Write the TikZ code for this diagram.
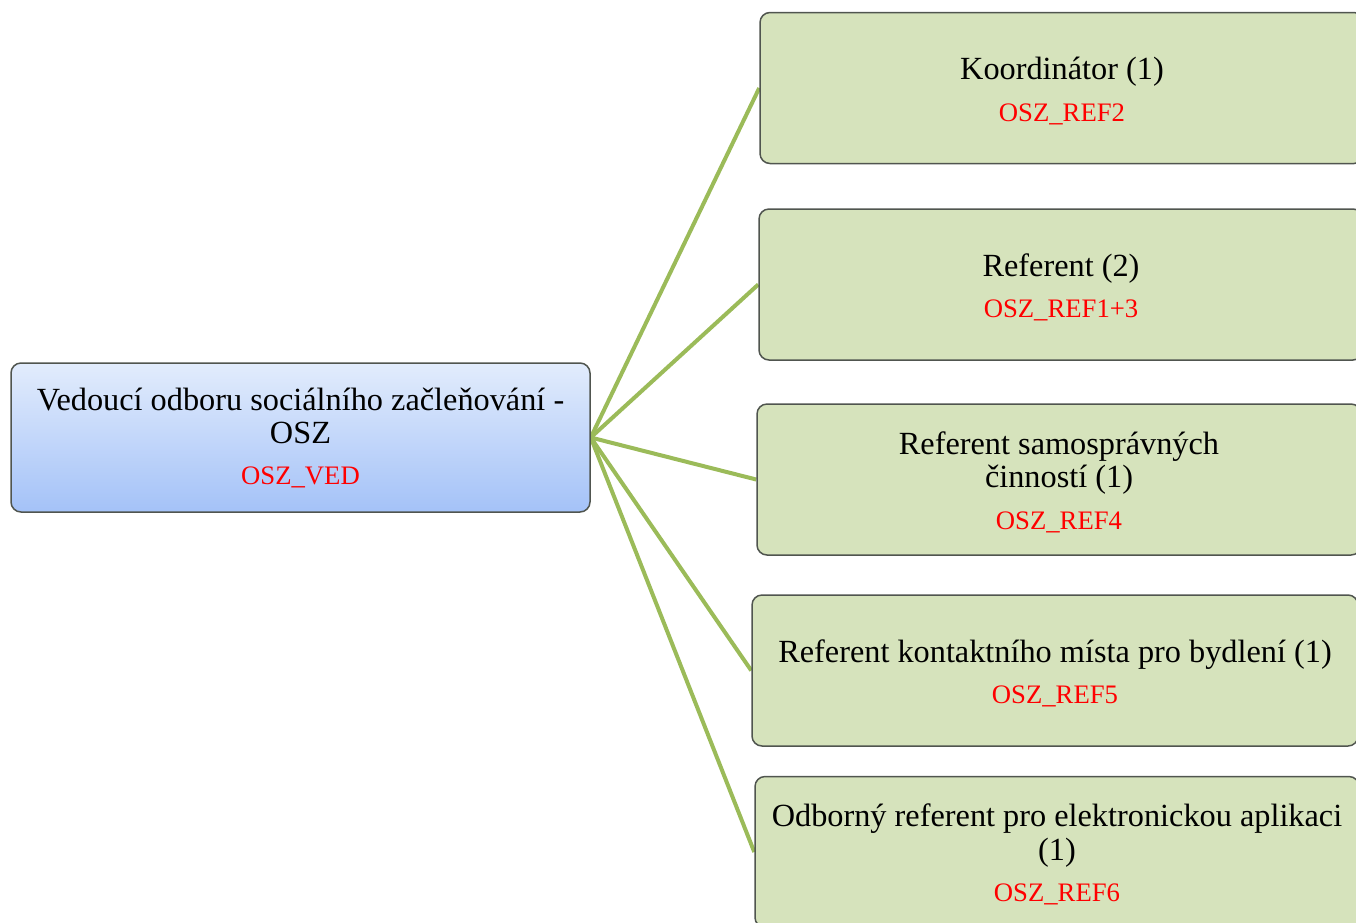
\documentclass[tikz,border=0pt]{standalone}
\usepackage{fontspec}
\setmainfont{Liberation Serif}
\usetikzlibrary{backgrounds}
\definecolor{boxgreen}{HTML}{D6E3BC}
\definecolor{linegreen}{HTML}{9BBB59}
\definecolor{boxborder}{HTML}{50554F}
\definecolor{bluetop}{HTML}{E2ECFC}
\definecolor{bluebot}{HTML}{A4C2F8}
\definecolor{codered}{HTML}{FF0000}
\newcommand{\codetxt}[1]{{\fontsize{26.7}{30}\selectfont\color{codered}#1}}
\newcommand{\topgap}{\rule{0pt}{28pt}}
\tikzset{
  orgbox/.style={draw=boxborder, line width=1.5pt, rounded corners=10pt,
    align=center, inner sep=0pt,
    font=\fontsize{32.3}{33.5}\selectfont},
  headbox/.style={orgbox, top color=bluetop, bottom color=bluebot,
    minimum width=579pt, minimum height=149pt},
  staffbox/.style={orgbox, fill=boxgreen, minimum height=151pt},
  link/.style={draw=linegreen, line width=4pt}
}
\begin{document}
\begin{tikzpicture}[x=1pt,y=-1pt]
\useasboundingbox (0,0) rectangle (1356,922);
\clip (0,0) rectangle (1356,922);
\node[headbox] (head) at (300.5,437.5)
  {Vedoucí odboru sociálního začleňování -\\OSZ\\[7pt]\codetxt{OSZ\_VED}};
\node[staffbox, minimum width=604pt] (b1) at (1062,88)
  {\topgap Koordinátor (1)\\[8pt]\codetxt{OSZ\_REF2}};
\node[staffbox, minimum width=604pt] (b2) at (1061,284.5)
  {\topgap Referent (2)\\[8pt]\codetxt{OSZ\_REF1+3}};
\node[staffbox, minimum width=604pt] (b3) at (1059,479.5)
  {\topgap Referent samosprávných\\činností (1)\\[8pt]\codetxt{OSZ\_REF4}};
\node[staffbox, minimum width=606pt] (b4) at (1055,670.5)
  {\topgap Referent kontaktního místa pro bydlení (1)\\[8pt]\codetxt{OSZ\_REF5}};
\node[staffbox, minimum width=604pt] (b5) at (1057,852)
  {\topgap Odborný referent pro elektronickou aplikaci\\(1)\\[8pt]\codetxt{OSZ\_REF6}};
\begin{scope}[on background layer]
\foreach \b in {b1,b2,b3,b4,b5}
  \draw[link] (head.east) -- (\b.west);
\end{scope}
\end{tikzpicture}
\end{document}
